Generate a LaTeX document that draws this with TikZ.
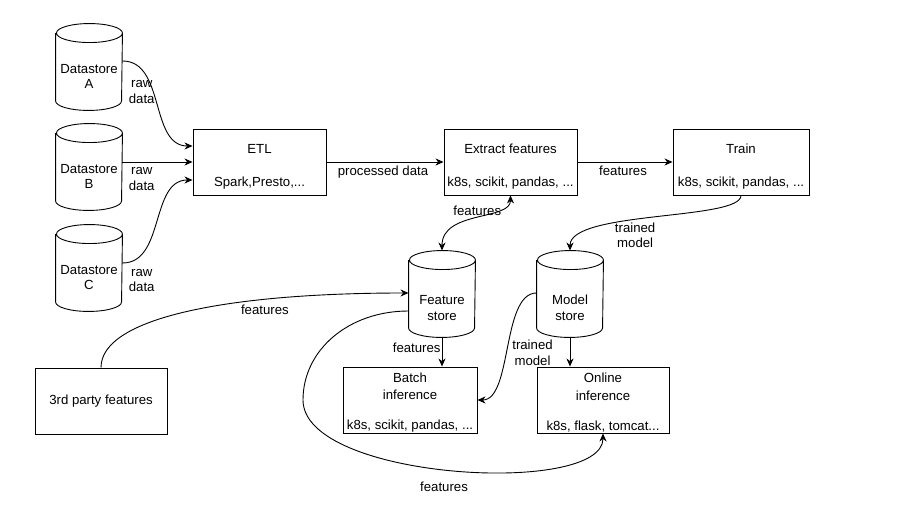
\documentclass[tikz,border=0pt]{standalone}
\usepackage{fontspec}
\setmainfont{Liberation Sans}
\usetikzlibrary{arrows.meta}

\begin{document}
\begin{tikzpicture}[x=1pt,y=1pt,>={Stealth[length=8pt,width=7pt,inset=2.5pt]},
	line width=0.9pt,font=\fontsize{13.2}{15.5}\selectfont,
	box/.style={draw,minimum width=133pt,minimum height=66pt,inner sep=0pt,align=center},
	tool/.style={box,text height=51pt},
	infer/.style={box,text height=62pt},
	store/.style={minimum width=66pt,minimum height=67pt,inner sep=0pt,align=center},
	lbl/.style={align=center}]
	
	\useasboundingbox (0,0) rectangle (899,-510);
	
	\node[store] (dsA) at (89,-76.5) {Datastore\\A};
	\node[store] (dsB) at (89,-176.5) {Datastore\\B};
	\node[store] (dsC) at (89,-277.5) {Datastore\\C};
	\node[tool] (etl) at (259.5,-162) {ETL\\[17.5pt]Spark,Presto,...};
	\node[tool] (extract) at (510.5,-162) {Extract features\\[17.5pt]k8s, scikit, pandas, ...};
	\node[tool,minimum width=136pt] (train) at (741,-162) {Train\\[17.5pt]k8s, scikit, pandas, ...};
	\node[store,text height=34pt] (fstore) at (442,-303.5) {Feature\\store};
	\node[store,text height=34pt] (mstore) at (570,-303.5) {Model\\store};
	\node[infer,minimum width=134pt] (batch) at (410,-400) {Batch\\[2pt]inference\\[14.5pt]k8s, scikit, pandas, ...};
	\node[infer,minimum width=132pt] (online) at (603,-400) {Online\\[2pt]inference\\[14.5pt]k8s, flask, tomcat...};
	\node[box,minimum width=132pt] (third) at (101,-401) {3rd party features};
	
	% cylinder outlines
	\foreach \s in {dsA,dsB,dsC,fstore,mstore}
	\draw ([yshift=9.5pt]\s.north west) -- ([yshift=9.5pt]\s.south west)
	arc[start angle=180,end angle=360,x radius=33pt,y radius=9.5pt]
	-- ([yshift=9.5pt]\s.north east)
	arc[start angle=0,end angle=360,x radius=33pt,y radius=9.5pt];
	
	\coordinate (loop) at (303,-400);
	
	\path[->]
	([yshift=15.5pt]dsA.east) edge[out=0,in=180] node[lbl,at start,anchor=north west,xshift=5pt,yshift=-18pt,inner sep=1pt] {raw\\data} ([yshift=16pt]etl.west)
	(dsB.east |- etl.west) edge node[lbl,at start,anchor=north west,xshift=5pt,yshift=-4pt,inner sep=1pt] {raw\\data} (etl.west)
	([yshift=14.5pt]dsC.east) edge[out=0,in=180] node[lbl,at start,anchor=north west,xshift=5pt,yshift=-4.5pt,inner sep=1pt] {raw\\data} ([yshift=-18pt]etl.west)
	(etl.east) edge node[below,xshift=-2pt] {processed data} (extract.west)
	(extract.east) edge node[below,xshift=-2pt] {features} (train.west)
	(extract.south) edge[<->,out=-90,in=90,out distance=25pt,in distance=40pt] node[above,xshift=1pt,yshift=-2pt] {features} ([yshift=19pt]fstore.north)
	(train.south) edge[out=-90,in=90,out distance=25pt,in distance=40pt] node[lbl,pos=0.58,below,yshift=1.5pt] {trained\\model} ([yshift=19pt]mstore.north)
	(fstore.south) edge node[pos=0.37,left,inner sep=1pt] {features} (fstore.south |- batch.north)
	(mstore.south) edge (mstore.south |- online.north)
	([yshift=10.5pt]mstore.west) edge[out=180,in=0,out distance=35pt,in distance=35pt] node[lbl,pos=0.54,right,xshift=3pt] {trained\\model} (batch.east)
	(third.north) edge[out=90,in=180,out distance=50pt,in distance=180pt] node[pos=0.705,below,yshift=-2pt] {features} ([yshift=10.5pt]fstore.west);
	
	\draw[->] ([yshift=-7.5pt]fstore.west) to[out=180,in=90,out distance=60pt,in distance=50pt] (loop)
	to[out=-90,in=-90,out distance=80pt,in distance=63pt] node[pos=0.48,below=9pt] {features} (online.south);
	
\end{tikzpicture}
\end{document}
